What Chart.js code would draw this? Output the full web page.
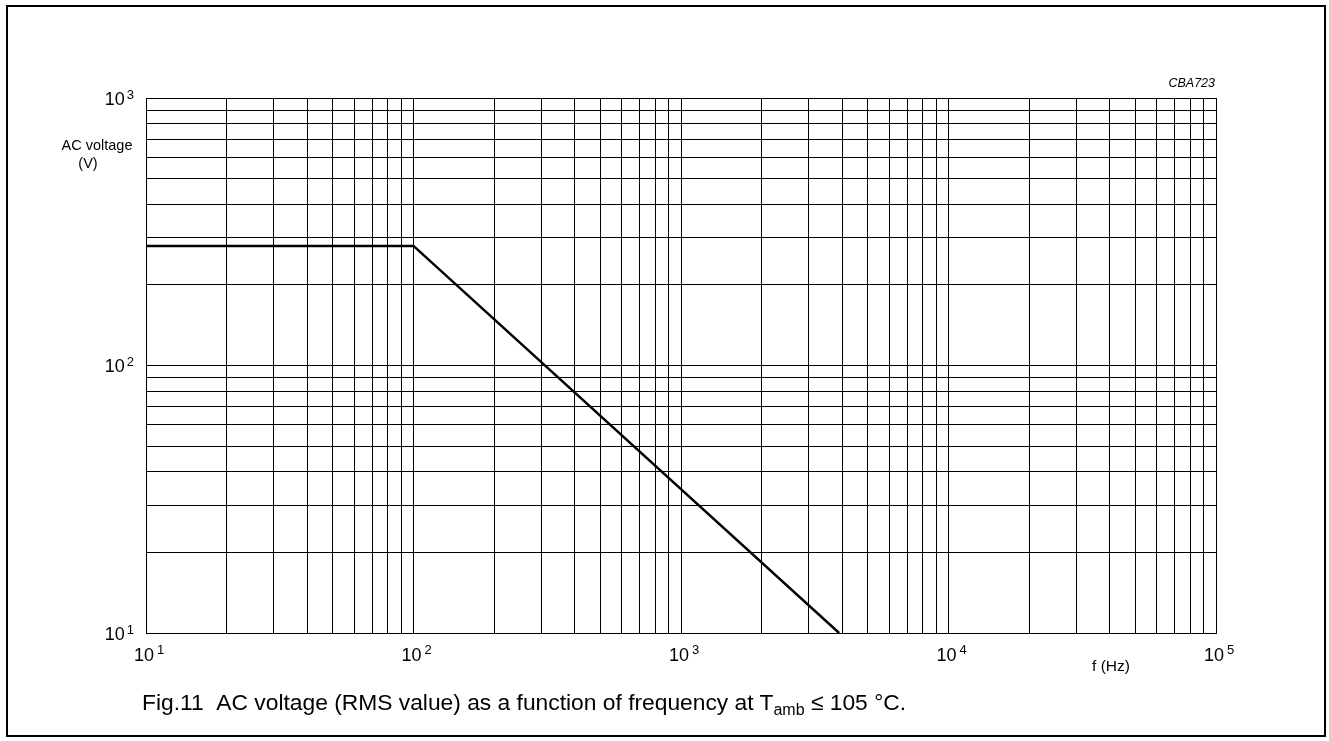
<!DOCTYPE html>
<html>
<head>
<meta charset="utf-8">
<script src="https://cdn.jsdelivr.net/npm/chart.js@4.4.1/dist/chart.umd.min.js"></script>
<style>
  html, body { margin: 0; padding: 0; background: #fff; }
  #wrap { position: relative; width: 1329px; height: 741px; overflow: hidden; }
  #frame { position: absolute; left: 6px; top: 5px; width: 1320px; height: 732px; border: 2px solid #000; box-sizing: border-box; }
  #caption { position: absolute; left: 142px; top: 689px; font: 22.8px "Liberation Sans", Arial, sans-serif; color: #000; white-space: nowrap; }
  #caption sub { font-size: 16px; vertical-align: -5px; line-height: 0; }
  canvas { position: absolute; left: 0; top: 0; }
</style>
</head>
<body>
<div id="wrap">
  <div id="frame"></div>
  <canvas id="chart" width="1329" height="741"></canvas>
  <div id="caption">Fig.11&nbsp;&nbsp;AC voltage (RMS value) as a function of frequency at T<sub>amb</sub> &le; 105 &deg;C.</div>
</div>
<script>
// data
const freq = [10, 100, 3900];      // Hz
const voltage = [280, 280, 10];    // V (RMS)

// axis decades (labels are 10^n)
const xExps = [1, 2, 3, 4, 5];
const yExps = [1, 2, 3];

const FONT = '"Liberation Sans", Arial, sans-serif';

// grid at 1..9 x 10^n for each decade
function logGrid(exps) {
  const out = [];
  for (let i = 0; i < exps.length - 1; i++) {
    for (let m = 1; m < 10; m++) out.push(m * Math.pow(10, exps[i]));
  }
  out.push(Math.pow(10, exps[exps.length - 1]));
  return out;
}

// draws the 10^n labels and axis texts
const labelsPlugin = {
  id: 'labels',
  afterDraw(chart) {
    const ctx = chart.ctx;
    const xs = chart.scales.x, ys = chart.scales.y;
    const area = chart.chartArea;
    ctx.save();
    ctx.fillStyle = '#000';
    ctx.textBaseline = 'middle';

    // y tick labels
    yExps.forEach(e => {
      const py = ys.getPixelForValue(Math.pow(10, e));
      ctx.font = '13px ' + FONT;
      ctx.textAlign = 'right';
      const supW = ctx.measureText(String(e)).width;
      ctx.fillText(String(e), 134, py - 3);
      ctx.font = '18px ' + FONT;
      ctx.fillText('10', 134 - supW - 2, py + 2);
    });

    // x tick labels
    xExps.forEach(e => {
      const px = xs.getPixelForValue(Math.pow(10, e));
      ctx.font = '18px ' + FONT;
      ctx.textAlign = 'center';
      const w = ctx.measureText('10').width;
      ctx.fillText('10', px - 2, area.bottom + 23);
      ctx.font = '13px ' + FONT;
      ctx.textAlign = 'left';
      ctx.fillText(String(e), px - 2 + w / 2 + 3, area.bottom + 17);
    });

    // axis titles
    ctx.font = '14.5px ' + FONT;
    ctx.textAlign = 'center';
    ctx.fillText('AC voltage', 97, 146);
    ctx.fillText('(V)', 88, 164);
    ctx.font = '15.5px ' + FONT;
    ctx.fillText('f (Hz)', 1111, area.bottom + 34);

    ctx.font = 'italic 12.5px ' + FONT;
    ctx.textAlign = 'right';
    ctx.fillText('CBA723', area.right - 1, 84);
    ctx.restore();
  }
};

const ctx = document.getElementById('chart').getContext('2d');
new Chart(ctx, {
  type: 'line',
  data: {
    datasets: [{
      data: freq.map((f, i) => ({ x: f, y: voltage[i] })),
      borderColor: '#000',
      borderWidth: 2.5,
      pointRadius: 0,
      tension: 0,
      fill: false
    }]
  },
  options: {
    responsive: false,
    animation: false,
    layout: { padding: { left: 146, top: 98, right: 113, bottom: 108 } },
    plugins: { legend: { display: false }, tooltip: { enabled: false } },
    scales: {
      x: {
        type: 'logarithmic',
        min: 10, max: 100000,
        afterBuildTicks: s => { s.ticks = logGrid(xExps).map(v => ({ value: v })); },
        ticks: { display: false },
        grid: { color: '#000', lineWidth: 1, drawTicks: false },
        border: { color: '#000', width: 1 }
      },
      y: {
        type: 'logarithmic',
        min: 10, max: 1000,
        afterBuildTicks: s => { s.ticks = logGrid(yExps).map(v => ({ value: v })); },
        ticks: { display: false },
        grid: { color: '#000', lineWidth: 1, drawTicks: false },
        border: { color: '#000', width: 1 }
      }
    }
  },
  plugins: [labelsPlugin]
});
</script>
</body>
</html>
